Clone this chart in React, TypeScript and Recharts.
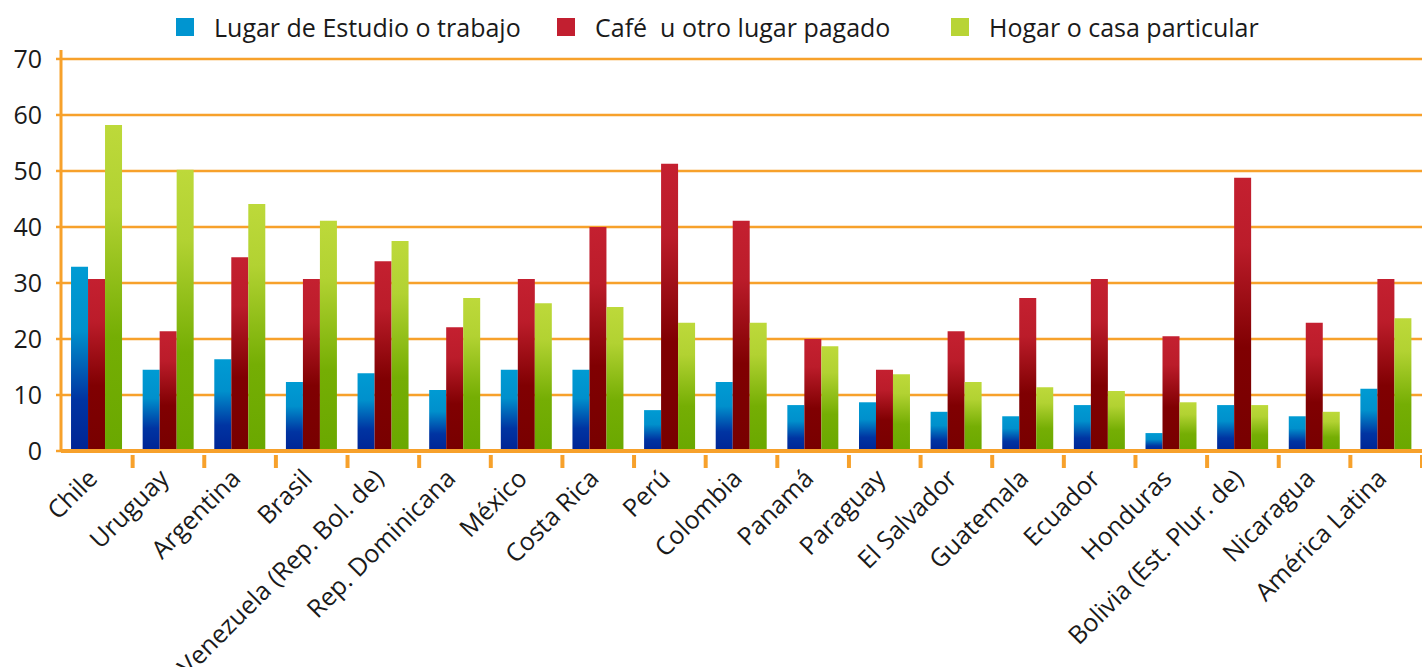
import React from "react";
import { BarChart, Bar, XAxis, YAxis, CartesianGrid } from "recharts";

const paises = [
  "Chile",
  "Uruguay",
  "Argentina",
  "Brasil",
  "Venezuela (Rep. Bol. de)",
  "Rep. Dominicana",
  "México",
  "Costa Rica",
  "Perú",
  "Colombia",
  "Panamá",
  "Paraguay",
  "El Salvador",
  "Guatemala",
  "Ecuador",
  "Honduras",
  "Bolivia (Est. Plur. de)",
  "Nicaragua",
  "América Latina",
];
const estudio = [32.9, 14.5, 16.4, 12.3, 13.9, 10.9, 14.5, 14.5, 7.3, 12.3, 8.2, 8.7, 7.0, 6.2, 8.2, 3.2, 8.2, 6.2, 11.1];
const cafe = [30.7, 21.4, 34.6, 30.7, 33.9, 22.1, 30.7, 40.0, 51.3, 41.1, 20.0, 14.5, 21.4, 27.3, 30.7, 20.5, 48.8, 22.9, 30.7];
const hogar = [58.2, 50.2, 44.1, 41.1, 37.5, 27.3, 26.4, 25.7, 22.9, 22.9, 18.7, 13.7, 12.3, 11.4, 10.7, 8.7, 8.2, 7.0, 23.7];
const yTicks = [0, 10, 20, 30, 40, 50, 60, 70];
const Y_MAX = 71.6;

const seriesNames = ["Lugar de Estudio o trabajo", "Café  u otro lugar pagado", "Hogar o casa particular"];

const data = paises.map((p, i) => ({
  pais: p,
  estudio: estudio[i],
  cafe: cafe[i],
  hogar: hogar[i],
}));

const ORANGE = "#f7a12b";
const FONT = "'Open Sans', sans-serif";

function PaisTick(props: any) {
  const { x, y, payload } = props;
  const half = payload.offset ?? 35.8;
  const ly = y + 21;
  return (
    <g>
      <line x1={x + half} x2={x + half} y1={y - 4} y2={y + 9} stroke={ORANGE} strokeWidth={4} />
      <text
        x={x + 2}
        y={ly}
        textAnchor="end"
        transform={`rotate(-45, ${x + 2}, ${ly})`}
        fontSize={25}
        fill="#1a1a1a"
        fontFamily={FONT}
      >
        {payload.value}
      </text>
    </g>
  );
}

// grid only at the labelled ticks, not at the top of the extended axis
function gridRows(p: any) {
  const top = p?.offset?.top ?? 50;
  const h = p?.offset?.height ?? 401;
  return yTicks.map((t) => top + h * (1 - t / Y_MAX));
}

const legendItems = [
  { left: 176, color: "#0095d0", label: seriesNames[0] },
  { left: 557, color: "#c21f30", label: seriesNames[1] },
  { left: 951, color: "#b8d435", label: seriesNames[2] },
];

export default function App() {
  return (
    <div style={{ position: "fixed", left: 0, top: 0, width: 1422, height: 667, background: "#fff" }}>
      {legendItems.map((it) => (
        <div
          key={it.label}
          style={{
            position: "absolute",
            left: it.left,
            top: 8,
            height: 38,
            display: "flex",
            alignItems: "center",
            fontFamily: FONT,
            fontSize: 25,
            color: "#1a1a1a",
            whiteSpace: "pre",
          }}
        >
          <span style={{ width: 18, height: 18, background: it.color, display: "inline-block", marginRight: 20 }} />
          <span>{it.label}</span>
        </div>
      ))}
      <BarChart
        width={1422}
        height={667}
        data={data}
        margin={{ top: 50, right: 0, left: 0, bottom: 0 }}
        barCategoryGap="14%"
        barGap={0}
      >
        <defs>
          <linearGradient id="gEstudio" x1="0" y1="0" x2="0" y2="1">
            <stop offset="0%" stopColor="#009bd3" />
            <stop offset="35%" stopColor="#0090cc" />
            <stop offset="72%" stopColor="#0034a2" />
            <stop offset="100%" stopColor="#002494" />
          </linearGradient>
          <linearGradient id="gCafe" x1="0" y1="0" x2="0" y2="1">
            <stop offset="0%" stopColor="#c42030" />
            <stop offset="25%" stopColor="#bb1c2a" />
            <stop offset="62%" stopColor="#800002" />
            <stop offset="100%" stopColor="#780000" />
          </linearGradient>
          <linearGradient id="gHogar" x1="0" y1="0" x2="0" y2="1">
            <stop offset="0%" stopColor="#bdd93a" />
            <stop offset="25%" stopColor="#b2d232" />
            <stop offset="65%" stopColor="#75ae04" />
            <stop offset="100%" stopColor="#6aa800" />
          </linearGradient>
        </defs>
        <CartesianGrid
          vertical={false}
          stroke={ORANGE}
          strokeWidth={2.5}
          horizontalCoordinatesGenerator={gridRows}
        />
        <XAxis
          dataKey="pais"
          interval={0}
          height={216}
          axisLine={{ stroke: ORANGE, strokeWidth: 4 }}
          tickLine={false}
          tick={<PaisTick />}
        />
        <YAxis
          type="number"
          domain={[0, Y_MAX]}
          ticks={yTicks}
          allowDataOverflow
          width={61}
          axisLine={{ stroke: ORANGE, strokeWidth: 3 }}
          tickLine={{ stroke: ORANGE, strokeWidth: 2.5 }}
          tickSize={5}
          tickMargin={14}
          tick={{ fontSize: 25, fill: "#1a1a1a", fontFamily: FONT }}
        />
        <Bar dataKey="estudio" name={seriesNames[0]} fill="url(#gEstudio)" isAnimationActive={false} />
        <Bar dataKey="cafe" name={seriesNames[1]} fill="url(#gCafe)" isAnimationActive={false} />
        <Bar dataKey="hogar" name={seriesNames[2]} fill="url(#gHogar)" isAnimationActive={false} />
      </BarChart>
    </div>
  );
}
